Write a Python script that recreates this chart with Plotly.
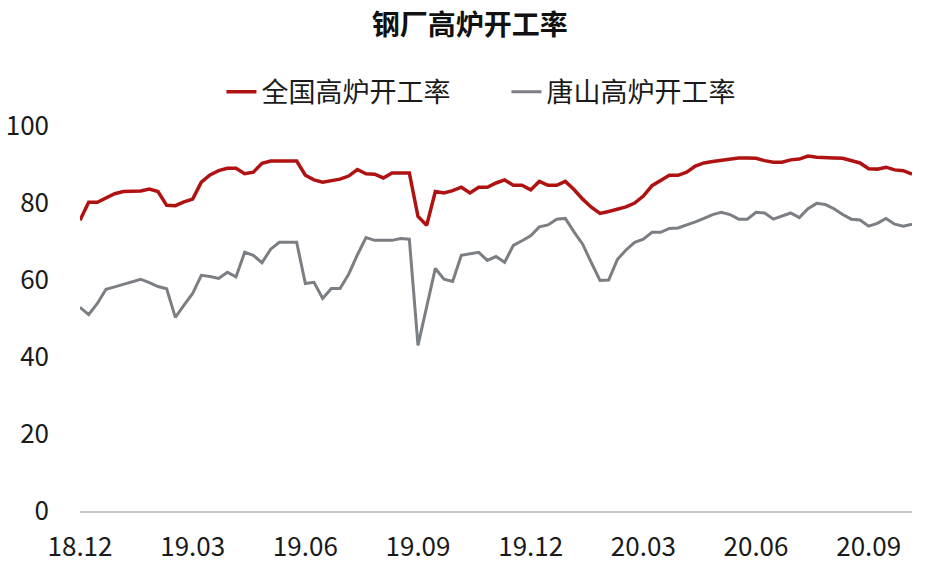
import plotly.graph_objects as go

# weekly readings, 18.12 -> 20.10
national = [75.5, 80.2, 80.2, 81.3, 82.4, 83.0, 83.1, 83.1, 83.6, 83.0,
            79.4, 79.3, 80.3, 81.0, 85.4, 87.3, 88.4, 89.0, 89.0, 87.6,
            88.0, 90.3, 90.9, 90.9, 90.9, 90.9, 87.2, 86.0, 85.4, 85.8,
            86.2, 87.0, 88.7, 87.6, 87.5, 86.5, 87.8, 87.8, 87.8, 76.5,
            74.2, 83.0, 82.6, 83.2, 84.1, 82.6, 84.1, 84.1, 85.2, 86.0,
            84.6, 84.6, 83.4, 85.6, 84.6, 84.6, 85.6, 83.5, 81.0, 78.9,
            77.3, 77.8, 78.4, 79.0, 80.0, 81.8, 84.5, 85.8, 87.2, 87.2,
            88.0, 89.6, 90.4, 90.8, 91.1, 91.5, 91.7, 91.7, 91.6, 91.0,
            90.6, 90.6, 91.2, 91.4, 92.2, 91.9, 91.7, 91.7, 91.6, 91.0,
            90.4, 88.9, 88.8, 89.3, 88.6, 88.4, 87.5]

tangshan = [52.9, 51.0, 53.9, 57.6, 58.2, 58.8, 59.5, 60.2, 59.3, 58.3,
            57.7, 50.3, 53.5, 56.5, 61.2, 60.9, 60.4, 62.0, 60.8, 67.2,
            66.4, 64.5, 68.0, 69.8, 69.8, 69.8, 59.1, 59.4, 55.2, 57.8,
            57.8, 61.5, 66.5, 71.0, 70.3, 70.3, 70.3, 70.8, 70.6, 43.0,
            53.0, 63.0, 60.2, 59.6, 66.4, 66.8, 67.2, 65.1, 66.1, 64.6,
            69.0, 70.2, 71.5, 73.8, 74.3, 75.8, 76.0, 72.5, 69.3, 64.5,
            59.9, 60.0, 65.3, 67.8, 69.8, 70.6, 72.4, 72.4, 73.4, 73.5,
            74.2, 75.1, 76.0, 77.0, 77.6, 77.0, 75.8, 75.8, 77.6, 77.4,
            75.8, 76.6, 77.4, 76.2, 78.5, 79.9, 79.6, 78.5, 77.0, 75.8,
            75.6, 74.0, 74.7, 76.0, 74.5, 74.0, 74.5]

tick_labels = ['18.12', '19.03', '19.06', '19.09', '19.12', '20.03', '20.06', '20.09']
tick_pos = [i * 13 for i in range(len(tick_labels))]

weeks = list(range(len(national)))
font = 'Noto Sans CJK SC'

fig = go.Figure()
fig.add_trace(go.Scatter(x=weeks, y=national, mode='lines', name='全国高炉开工率',
                         line=dict(color='#b01212', width=3.5)))
fig.add_trace(go.Scatter(x=weeks, y=tangshan, mode='lines', name='唐山高炉开工率',
                         line=dict(color='#7b7e82', width=3)))

fig.update_layout(
    width=936, height=564,
    paper_bgcolor='white', plot_bgcolor='white',
    margin=dict(l=80, r=24, t=126, b=53),
    font=dict(family=font, size=26, color='#1a1a1a'),
    title=dict(text='<b>钢厂高炉开工率</b>', x=0.502, xanchor='center',
               y=0.955, yanchor='middle', font=dict(size=28, color='#111')),
    legend=dict(orientation='h', x=0.17, xanchor='left', y=1.088, yanchor='middle',
                font=dict(size=27), entrywidth=240, entrywidthmode='pixels'),
    showlegend=True,
)
fig.update_xaxes(range=[0, 96], tickmode='array', tickvals=tick_pos, ticktext=tick_labels,
                 showgrid=False, zeroline=False, showline=True, linecolor='#c8c8c8',
                 linewidth=1.5, ticks='', ticklabelstandoff=12, automargin=False)
fig.update_yaxes(range=[0, 100], dtick=20, showgrid=False, zeroline=False,
                 showline=False, ticks='', ticklabelstandoff=30, automargin=False)

# drop the default 8px page margin so the figure sits flush in the window
fig.write_html('out.html', config={'displayModeBar': False},
               post_script="document.body.style.margin='0';")
